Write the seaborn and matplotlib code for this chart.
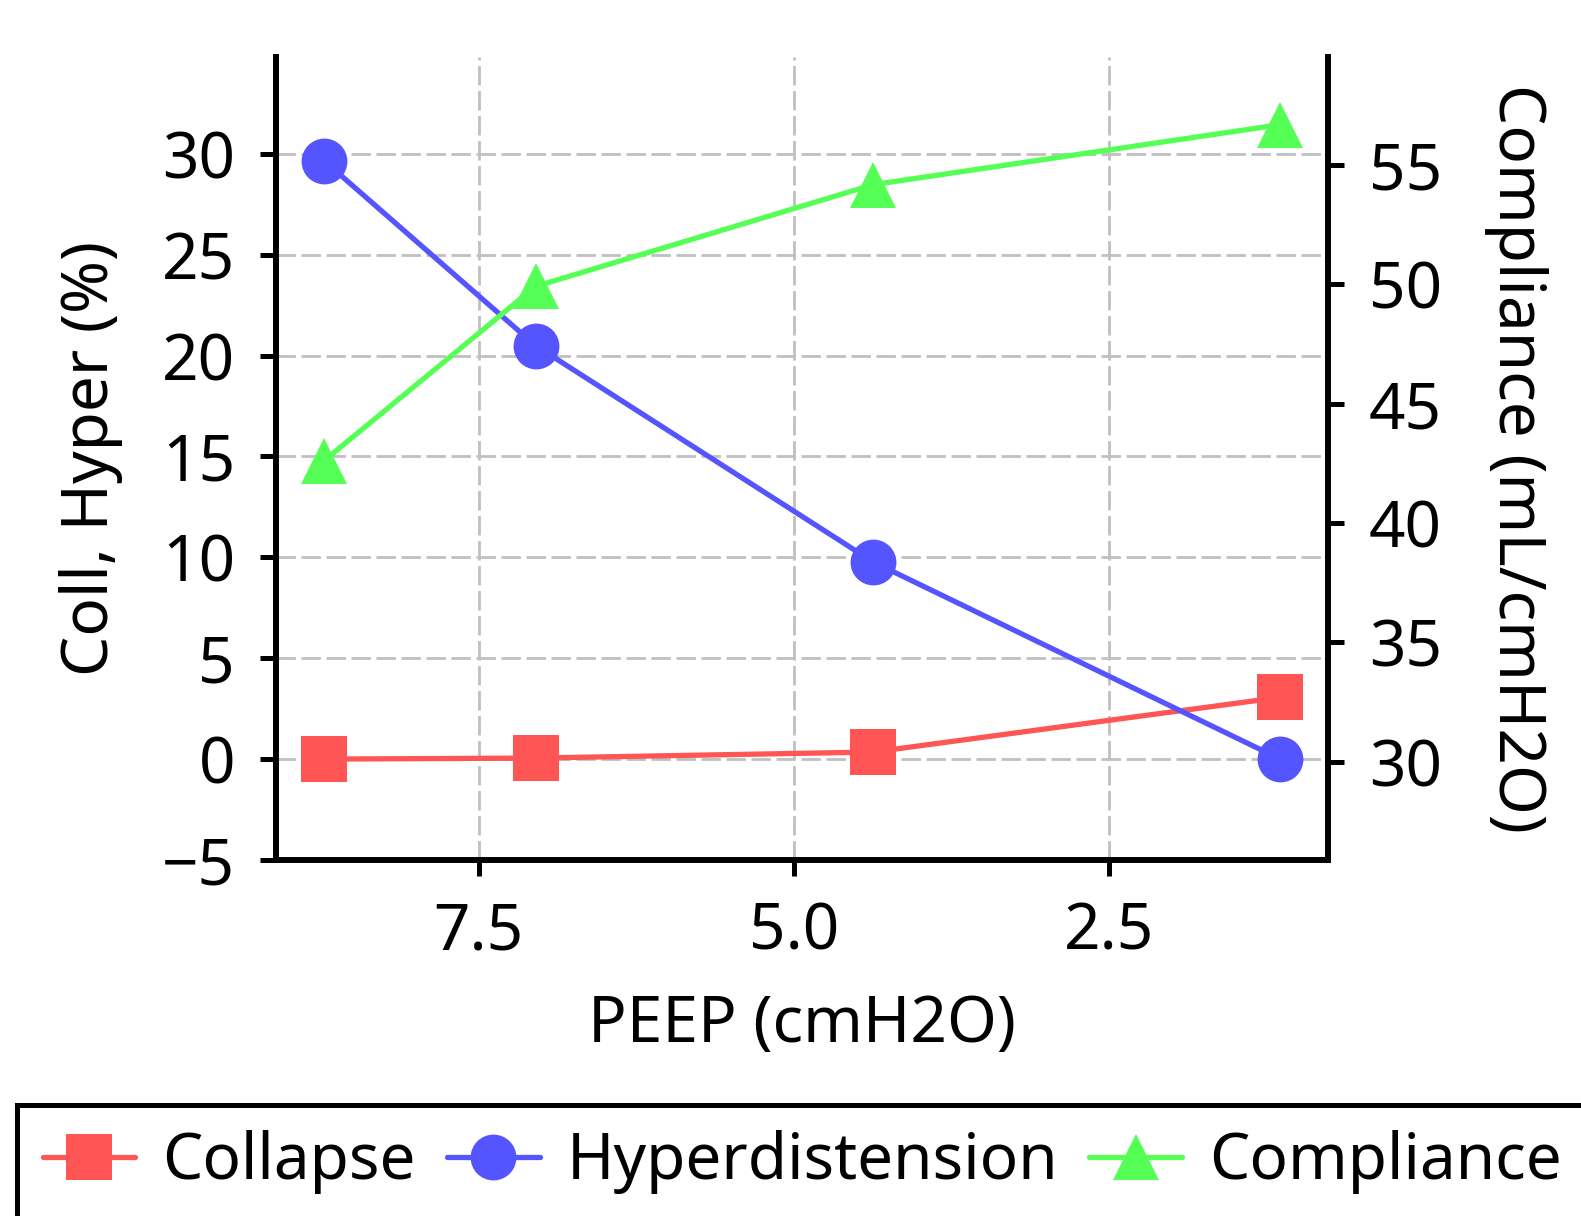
import matplotlib
matplotlib.use('Agg')
import matplotlib.pyplot as plt
import pandas as pd
import seaborn as sns

# values
peep = [8.73, 7.05, 4.37, 1.14]
collapse = [0.0, 0.05, 0.35, 3.06]
hyper = [29.67, 20.5, 9.77, 0.0]
compliance = [42.6, 49.9, 54.16, 56.67]

x_ticks = [7.5, 5.0, 2.5]
left_ticks = [-5, 0, 5, 10, 15, 20, 25, 30]
right_ticks = [30, 35, 40, 45, 50, 55]
left_ylim = (-5, 34.8)
right_ylim = (25.9, 59.5)

RED = '#ff5555'
BLUE = '#5555ff'
GREEN = '#55ff55'
FS = 46

df = pd.DataFrame({'peep': peep, 'collapse': collapse, 'hyper': hyper, 'compliance': compliance})

sns.set_style('ticks', {'axes.edgecolor': 'black', 'text.color': 'black',
                        'axes.labelcolor': 'black', 'xtick.color': 'black', 'ytick.color': 'black'})
plt.rcParams['font.family'] = ['Noto Sans', 'DejaVu Sans']

fig = plt.figure(figsize=(15.81, 12.16), dpi=100)
ax = fig.add_axes([0.1746, 0.2928, 0.6654, 0.6603])
ax2 = ax.twinx()

line_kws = dict(lw=3.8, ms=33, markeredgewidth=0)
sns.lineplot(data=df, x='peep', y='collapse', color=RED, marker='s', label='Collapse', ax=ax, **line_kws)
sns.lineplot(data=df, x='peep', y='hyper', color=BLUE, marker='o', label='Hyperdistension', ax=ax, **line_kws)
sns.lineplot(data=df, x='peep', y='compliance', color=GREEN, marker='^', label='Compliance', ax=ax2, **line_kws)

for a in (ax, ax2):
    if a.get_legend() is not None:
        a.get_legend().remove()

ax.set_ylim(*left_ylim)
ax2.set_ylim(*right_ylim)
ax.set_yticks(left_ticks)
ax2.set_yticks(right_ticks)
ax.set_xticks(x_ticks)
ax.invert_xaxis()

ax.grid(True, ls=(0, (7, 2)), color='#c0c0c0', lw=2)
ax.set_axisbelow(True)

ax.spines['top'].set_visible(False)
ax.spines['right'].set_visible(False)
for s in ('top', 'left', 'bottom'):
    ax2.spines[s].set_visible(False)
for a in (ax, ax2):
    for sp in a.spines.values():
        sp.set_linewidth(4.3)
    a.tick_params(length=11.5, width=3.6, pad=18, labelsize=FS, colors='black')

ax.set_xlabel('PEEP (cmH2O)', fontsize=FS, labelpad=20)
ax.set_ylabel('Coll, Hyper (%)', fontsize=FS, labelpad=28)
ax2.set_ylabel('Compliance (mL/cmH2O)', fontsize=FS, rotation=270, labelpad=76)

h1, l1 = ax.get_legend_handles_labels()
h2, l2 = ax2.get_legend_handles_labels()
leg = ax2.legend(h1 + h2, l1 + l2, loc='upper center', bbox_to_anchor=(0.5, -0.305),
                 ncol=3, fontsize=FS, frameon=True, fancybox=False, framealpha=1,
                 edgecolor='black', borderaxespad=0, handlelength=1.45,
                 handletextpad=0.42, columnspacing=0.49)
leg.get_frame().set_linewidth(3.6)

plt.savefig('out.png', dpi=100)
